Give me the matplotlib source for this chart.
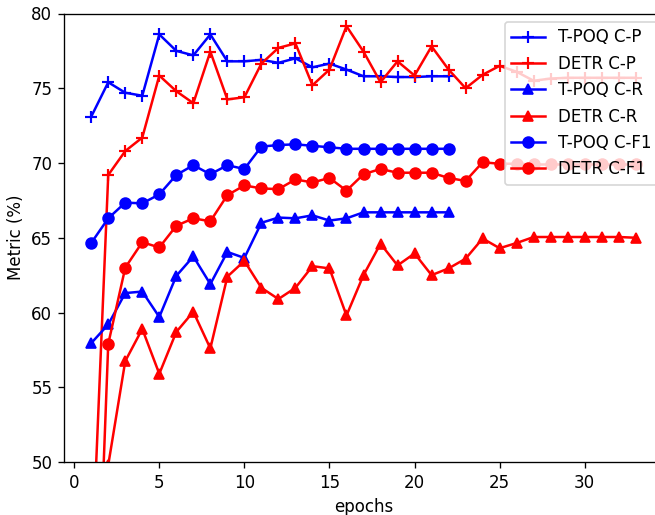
import matplotlib
matplotlib.use("Agg")
import matplotlib.pyplot as plt

epochs_tpoq = list(range(1, 23))
epochs_detr = list(range(1, 34))

tpoq_cp = [73.1, 75.4, 74.7, 74.5, 78.6, 77.5, 77.2, 78.6, 76.8, 76.8, 76.9, 76.7,
           77.0, 76.4, 76.65, 76.25, 75.8, 75.8, 75.75, 75.75, 75.8, 75.8]
detr_cp = [42.0, 69.2, 70.8, 71.7, 75.85, 74.8, 74.0, 77.45, 74.25, 74.4, 76.65, 77.7,
           78.0, 75.2, 76.25, 79.15, 77.45, 75.4, 76.8, 75.85, 77.8, 76.25, 75.0, 75.9,
           76.5, 76.1, 75.5, 75.65, 75.7, 75.7, 75.7, 75.7, 75.7]
tpoq_cr = [57.95, 59.2, 61.3, 61.4, 59.7, 62.45, 63.75, 61.9, 64.05, 63.65, 66.0, 66.35,
           66.3, 66.5, 66.15, 66.3, 66.7, 66.7, 66.7, 66.7, 66.7, 66.7]
detr_cr = [30.0, 49.8, 56.75, 58.9, 55.9, 58.7, 60.05, 57.6, 62.4, 63.45, 61.65, 60.9,
           61.65, 63.1, 62.95, 59.8, 62.5, 64.6, 63.15, 63.95, 62.5, 62.95, 63.6, 64.95,
           64.3, 64.65, 65.05, 65.05, 65.05, 65.05, 65.05, 65.05, 65.0]
tpoq_cf1 = [64.65, 66.3, 67.35, 67.3, 67.9, 69.2, 69.85, 69.25, 69.85, 69.6, 71.1, 71.2,
            71.25, 71.15, 71.05, 70.95, 70.95, 70.95, 70.95, 70.95, 70.95, 70.95]
detr_cf1 = [28.0, 57.9, 63.0, 64.7, 64.35, 65.8, 66.3, 66.1, 67.85, 68.5, 68.3, 68.25,
            68.9, 68.7, 69.0, 68.15, 69.25, 69.6, 69.35, 69.35, 69.35, 69.0, 68.8, 70.05,
            69.95, 69.95, 69.9, 69.9, 69.9, 69.9, 69.9, 69.9, 69.9]

DPI = 120
fig = plt.figure(figsize=(655/DPI, 515/DPI), dpi=DPI)
ax = fig.add_axes([64/655, 1-462/515, (663-64)/655, (462-13.5)/515])

lw = 1.5
ms = 6.5
ax.plot(epochs_tpoq, tpoq_cp, color='blue', marker='+', lw=lw, ms=ms+1, mew=1.3, label='T-POQ C-P')
ax.plot(epochs_detr, detr_cp, color='red', marker='+', lw=lw, ms=ms+1, mew=1.3, label='DETR C-P')
ax.plot(epochs_tpoq, tpoq_cr, color='blue', marker='^', lw=lw, ms=ms, label='T-POQ C-R')
ax.plot(epochs_detr, detr_cr, color='red', marker='^', lw=lw, ms=ms, label='DETR C-R')
ax.plot(epochs_tpoq, tpoq_cf1, color='blue', marker='o', lw=lw, ms=ms, label='T-POQ C-F1')
ax.plot(epochs_detr, detr_cf1, color='red', marker='o', lw=lw, ms=ms, label='DETR C-F1')

ax.set_xlim(-0.6, 34.6)
ax.set_ylim(50, 80)
ax.set_xticks([0, 5, 10, 15, 20, 25, 30])
ax.set_yticks([50, 55, 60, 65, 70, 75, 80])
ax.set_xlabel('epochs')
ax.set_ylabel('Metric (%)')
ax.legend(loc='upper right', bbox_to_anchor=(1.006, 1.0))

fig.savefig('out.png', dpi=DPI)
